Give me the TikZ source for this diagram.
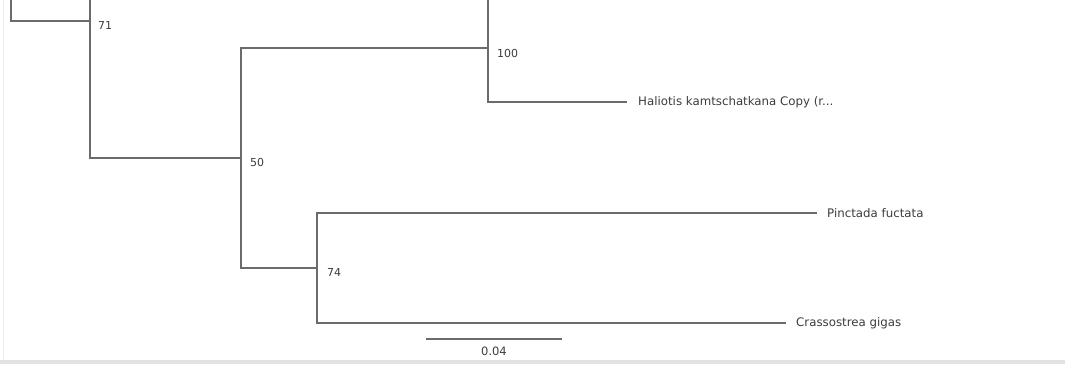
\documentclass[tikz,border=0pt]{standalone}
\usepackage{fontspec}
\setmainfont{DejaVu Sans}
\usepackage{xcolor}
\usepackage{tikz}
\usetikzlibrary{positioning}
\definecolor{brgray}{HTML}{6B6B6B}
\definecolor{txgray}{HTML}{3C3C3C}
\definecolor{framegray}{HTML}{E2E2E2}
\tikzset{branch/.style={brgray,line width=1.4pt},
         tiplbl/.style={txgray,inner sep=0pt,anchor=west,font=\fontsize{11.8}{14}\selectfont},
         supp/.style={txgray,inner sep=0pt,anchor=west,font=\fontsize{11}{13}\selectfont}}

\begin{document}
\begin{tikzpicture}[x=1pt,y=-1pt,
  scalebar/.style={brgray,line width=1.4pt}]
\useasboundingbox (0,0) rectangle (1065,364);
% screenshot frame
\fill[framegray] (0,360) rectangle (1065,364);
\draw[framegray!70,thin] (3,0)--(3,360);
% internal nodes and tips
\coordinate (root) at (11,0);
\coordinate (up71) at (90,0);
\coordinate (up100) at (488,0);
\coordinate (n71) at (90,21);
\coordinate (n50) at (241,158);
\coordinate (n100) at (488,48);
\coordinate (n74) at (317,268);
\coordinate (thal) at (627,102);
\coordinate (tpin) at (817,213);
\coordinate (tcra) at (786,323);
% branches
\draw[branch] (root) |- (n71);
\draw[branch] (up71) |- (n50);
\draw[branch] (n100) -| (n50) |- (n74);
\draw[branch] (up100) |- (thal);
\draw[branch] (tpin) -| (n74) |- (tcra);
% bootstrap values
\node[supp,right=8pt of n71,yshift=-4pt] (b71) {71};
\node[supp,right=9pt of n50,yshift=-4pt] (b50) {50};
\node[supp,right=9pt of n100,yshift=-5pt] (b100) {100};
\node[supp,right=10pt of n74,yshift=-4pt] (b74) {74};
% taxa
\node[tiplbl,right=11pt of thal] (hal) {Haliotis kamtschatkana Copy (r...};
\node[tiplbl,right=10pt of tpin] (pin) {Pinctada fuctata};
\node[tiplbl,right=10pt of tcra] (cra) {Crassostrea gigas};
% scale bar
\coordinate (sbl) at (426,339);
\coordinate (sbr) at (562,339);
\draw[scalebar] (sbl) -- node[txgray,below=7pt,inner sep=0pt,font=\fontsize{11.5}{14}\selectfont] (sblbl) {0.04} (sbr);
\end{tikzpicture}
\end{document}
